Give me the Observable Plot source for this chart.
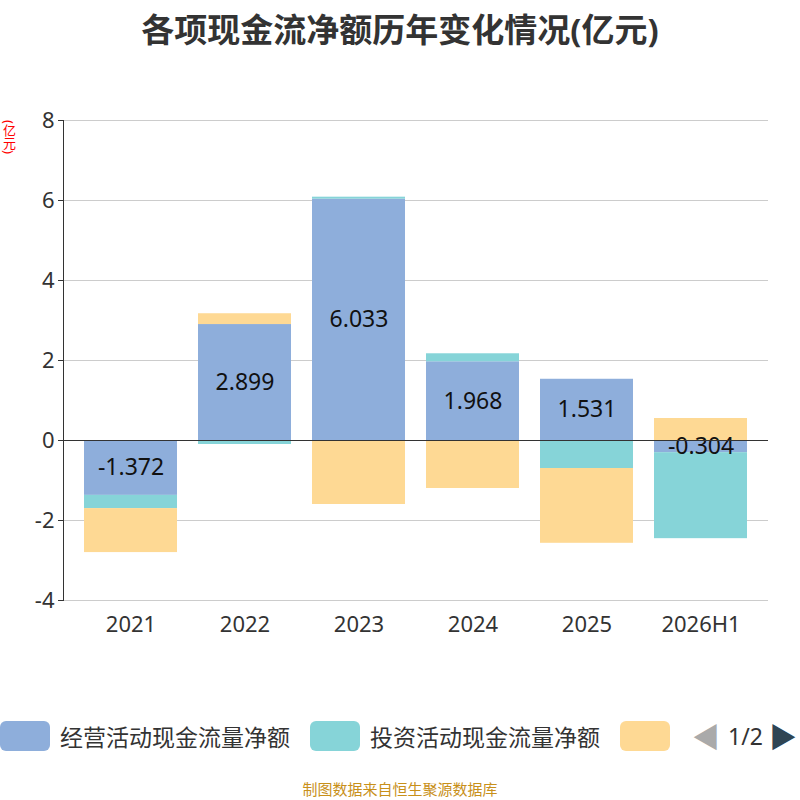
<!DOCTYPE html>
<html><head><meta charset="utf-8">
<script src="https://cdn.jsdelivr.net/npm/d3@7"></script>
<script src="https://cdn.jsdelivr.net/npm/@observablehq/plot@0.6"></script>
<style>
body{margin:0;width:800px;height:800px;position:relative;font-family:"Noto Sans","Noto Sans CJK SC",sans-serif;background:#fff;overflow:hidden}
#title{position:absolute;top:4px;width:800px;text-align:center;font-size:33px;font-weight:bold;color:#333}
#chart{position:absolute;top:60px;left:0}
#unit{position:absolute;left:0px;top:120px;color:red;font-size:13px;writing-mode:vertical-rl}
#legend{position:absolute;top:716px;left:0;font-size:23px;color:#333;display:flex;align-items:center;white-space:nowrap}
.sw{display:inline-block;width:50px;height:30px;border-radius:6px;margin-right:10px}
#foot{position:absolute;top:778px;width:800px;text-align:center;font-size:15px;color:#c8901a}
</style></head><body>
<div id="title">各项现金流净额历年变化情况(亿元)</div>
<div id="unit">(亿元)</div>
<div id="chart"></div>
<div id="legend">
<span class="sw" style="background:#8eaedb"></span><span style="margin-right:20px">经营活动现金流量净额</span>
<span class="sw" style="background:#86d4d8"></span><span style="margin-right:20px">投资活动现金流量净额</span>
<span class="sw" style="background:#fed994;margin-right:22px"></span>
<span style="color:#aaa;font-size:28px;margin-right:8px">◀</span><span style="margin-right:6px">1/2</span><span style="color:#2f4554;font-size:28px">▶</span>
</div>
<div id="foot">制图数据来自恒生聚源数据库</div>
<script>
const years = ["2021","2022","2023","2024","2025","2026H1"];
const series = ["经营活动现金流量净额","投资活动现金流量净额","筹资活动现金流量净额"];
const operating = [-1.372, 2.899, 6.033, 1.968, 1.531, -0.304];
const investing = [-0.33, -0.1, 0.05, 0.2, -0.7, -2.15];
const financing = [-1.1, 0.27, -1.6, -1.2, -1.87, 0.55];
const colors = ["#8eaedb","#86d4d8","#fed994"];
const vals = [operating, investing, financing];
const data = [];
series.forEach((s,i)=>years.forEach((y,j)=>data.push({year:y, series:s, value:vals[i][j]})));
const opData = years.map((y,j)=>({year:y, value:operating[j]}));
const plot = Plot.plot({
  width:800, height:600, marginTop:60, marginBottom:60, marginLeft:63, marginRight:32,
  style:{fontSize:"22px", color:"#333", fontFamily:"Noto Sans, sans-serif"},
  x:{domain:years, padding:0.18, label:null, tickSize:0, tickPadding:16},
  y:{domain:[-4,8], label:null},
  color:{domain:series, range:colors},
  marks:[
    Plot.gridY([-2,2,4,6,8], {stroke:"#ccc", strokeOpacity:1}),
    Plot.ruleY([-4], {stroke:"#ccc"}),
    Plot.barY(data, Plot.stackY({x:"year", y:"value", fill:"series", order:series})),
    Plot.text(opData, {x:"year", y:d=>d.value/2, text:d=>d.value.toFixed(3), fontSize:23, fill:"#111"}),
    Plot.ruleY([0], {stroke:"#333"}),
    Plot.axisY({ticks:[-4,-2,0,2,4,6,8], tickSize:5, label:null, tickFormat:d=>d, fontSize:22}),
    Plot.frame({anchor:"left", stroke:"#333"})
  ]
});
document.getElementById("chart").appendChild(plot);
</script>
</body></html>
